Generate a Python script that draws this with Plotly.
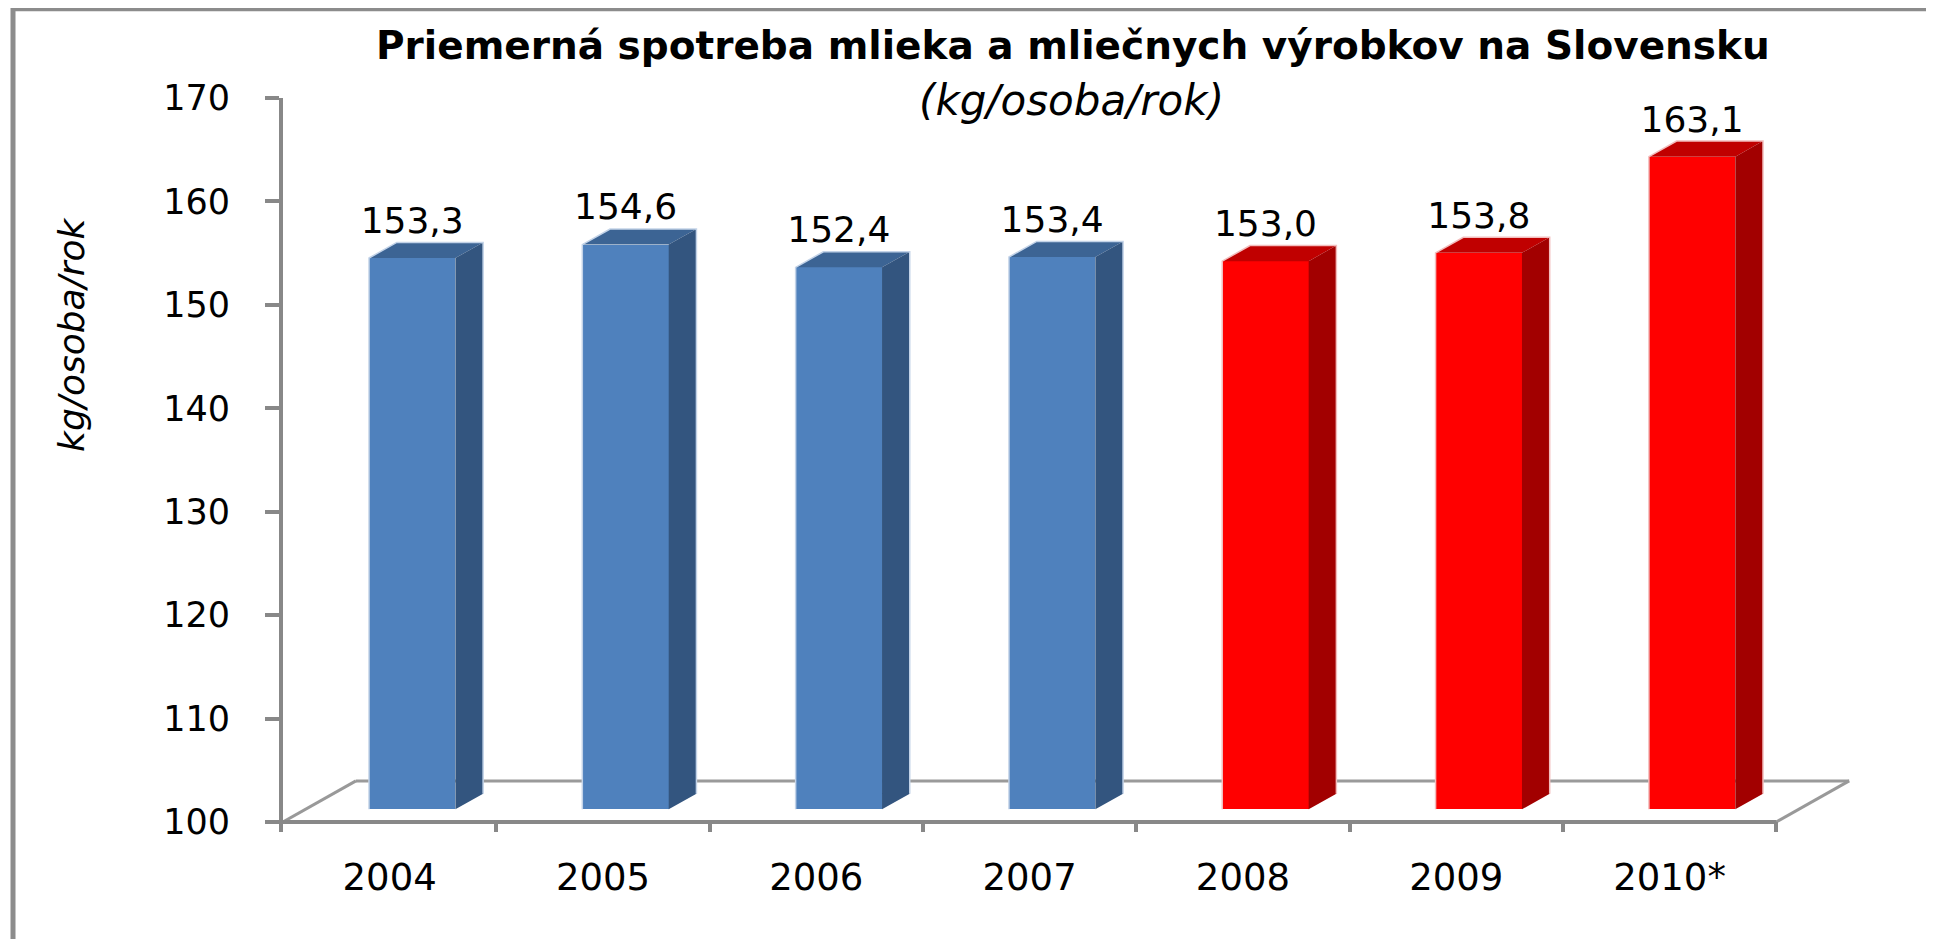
import plotly.graph_objects as go

# ---- data ----
years = ["2004", "2005", "2006", "2007", "2008", "2009", "2010*"]
values = [153.3, 154.6, 152.4, 153.4, 153.0, 153.8, 163.1]
series = ["blue", "blue", "blue", "blue", "red", "red", "red"]
y_ticks = [100, 110, 120, 130, 140, 150, 160, 170]
title_text = "Priemerná spotreba mlieka a mliečnych výrobkov na Slovensku"
subtitle_text = "(kg/osoba/rok)"
y_title = "kg/osoba/rok"

# ---- style / geometry ----
FRONT = {"blue": "#4F81BD", "red": "#FF0000"}
TOP = {"blue": "#3C6494", "red": "#C00000"}
SIDE = {"blue": "#33557F", "red": "#A20000"}
EDGE = {"blue": "#C3D3E8", "red": "#F2BDBD"}
GRAY = "#888888"
FONT = "DejaVu Sans"

Y0 = 100.0
DX, DY = 0.342, 3.97              # floor depth (x units, y units)
FX, FY = 0.309 * DX, 0.309 * DY   # bar front offset
BX, BY = 0.38 * DX, 0.38 * DY     # bar depth
W = 0.405

pos = list(range(len(years)))
n = len(years)
X_RANGE = [-0.5, n - 0.5 + 0.36]
Y_RANGE = [99.03, 170]

OFF = 8  # page body margin
W_PX, H_PX = 1934, 939
ML, MT = 283 - OFF, 98.3 - OFF
PW, PH = 1570, 733.4
MR = W_PX - ML - PW
MB = H_PX - MT - PH
BOTTOM = MT + PH


def px_x(p):
    return (p - OFF - ML) / PW


def px_y(p):
    return (BOTTOM - (p - OFF)) / PH


fig = go.Figure()

# front faces
fig.add_trace(go.Bar(
    x=[p + FX for p in pos],
    y=[v - Y0 for v in values],
    base=Y0 + FY,
    width=W,
    marker=dict(color=[FRONT[s] for s in series], line=dict(width=0)),
    hoverinfo="skip", showlegend=False,
))

# top and side faces + light silhouette edge
for grp in ["blue", "red"]:
    tx, ty, sx, sy, ex, ey = [], [], [], [], [], []
    for p, v, s in zip(pos, values, series):
        if s != grp:
            continue
        x0 = p + FX - W / 2
        x1 = p + FX + W / 2
        vt = v + FY
        tx += [x0, x1, x1 + BX, x0 + BX, x0, None]
        ty += [vt, vt, vt + BY, vt + BY, vt, None]
        sx += [x1, x1, x1 + BX, x1 + BX, x1, None]
        sy += [Y0 + FY, vt, vt + BY, Y0 + FY + BY, Y0 + FY, None]
        ex += [x0, x0, x0 + BX, x1 + BX, x1 + BX, None]
        ey += [Y0 + FY, vt, vt + BY, vt + BY, Y0 + FY + BY, None]
    fig.add_trace(go.Scatter(x=tx, y=ty, mode="lines", fill="toself",
                             fillcolor=TOP[grp], line=dict(width=0, color=TOP[grp]),
                             hoverinfo="skip", showlegend=False))
    fig.add_trace(go.Scatter(x=sx, y=sy, mode="lines", fill="toself",
                             fillcolor=SIDE[grp], line=dict(width=0, color=SIDE[grp]),
                             hoverinfo="skip", showlegend=False))
    fig.add_trace(go.Scatter(x=ex, y=ey, mode="lines",
                             line=dict(width=1.5, color=EDGE[grp]),
                             hoverinfo="skip", showlegend=False))

# value labels
fig.add_trace(go.Scatter(
    x=[p + FX for p in pos],
    y=[v + FY + 3.3 for v in values],
    mode="text",
    text=[f"{v:.1f}".replace(".", ",") for v in values],
    textposition="middle center",
    textfont=dict(family=FONT, size=36, color="black"),
    cliponaxis=False, hoverinfo="skip", showlegend=False,
))

# helper trace for boundary ticks axis
fig.add_trace(go.Scatter(x=pos, y=values, xaxis="x2", mode="markers",
                         marker=dict(opacity=0), hoverinfo="skip", showlegend=False))

shapes = [
    dict(type="line", xref="x", yref="y", x0=-0.5 + DX, y0=Y0 + DY, x1=n - 0.5 + DX, y1=Y0 + DY,
         line=dict(color="#9A9A9A", width=3), layer="below"),
    dict(type="line", xref="x", yref="y", x0=-0.5, y0=Y0, x1=-0.5 + DX, y1=Y0 + DY,
         line=dict(color="#999999", width=3), layer="below"),
    dict(type="line", xref="x", yref="y", x0=n - 0.5, y0=Y0, x1=n - 0.5 + DX, y1=Y0 + DY,
         line=dict(color="#999999", width=3), layer="below"),
    dict(type="line", xref="x", yref="y", x0=-0.5, y0=Y0, x1=n - 0.5, y1=Y0,
         line=dict(color=GRAY, width=4), layer="above"),
    dict(type="rect", xref="paper", yref="paper",
         x0=px_x(13), x1=px_x(1929), y0=px_y(980), y1=px_y(9),
         line=dict(color="#8C8C8C", width=5), fillcolor="rgba(0,0,0,0)"),
]

annotations = [
    dict(text=title_text, xref="paper", yref="paper", x=px_x(1073), y=px_y(46),
         xanchor="center", yanchor="middle", showarrow=False,
         font=dict(family=FONT, size=39, color="black", weight="bold")),
    dict(text=subtitle_text, xref="paper", yref="paper", x=px_x(1071), y=px_y(101),
         xanchor="center", yanchor="middle", showarrow=False,
         font=dict(family=FONT, size=42, color="black", style="italic")),
    dict(text=y_title, xref="paper", yref="paper", x=px_x(72), y=px_y(334),
         xanchor="center", yanchor="middle", showarrow=False, textangle=-90,
         font=dict(family=FONT, size=36, color="black", style="italic")),
]

fig.update_layout(
    width=W_PX, height=H_PX, autosize=False,
    margin=dict(l=ML, r=MR, t=MT, b=MB, pad=0),
    plot_bgcolor="white", paper_bgcolor="white",
    bargap=0, showlegend=False,
    shapes=shapes, annotations=annotations,
    xaxis=dict(range=X_RANGE, tickmode="array", tickvals=pos, ticktext=years,
               ticks="", showline=False, showgrid=False, zeroline=False,
               tickfont=dict(family=FONT, size=37, color="black"),
               ticklabelstandoff=20, automargin=False, fixedrange=True),
    xaxis2=dict(range=X_RANGE, overlaying="x", anchor="y", side="bottom",
                tickmode="array", tickvals=[i - 0.5 for i in range(n + 1)],
                ticks="inside", ticklen=10, tickwidth=4, tickcolor=GRAY,
                showticklabels=False, showline=False, showgrid=False, zeroline=False,
                automargin=False, fixedrange=True),
    yaxis=dict(range=Y_RANGE, tickmode="array", tickvals=y_ticks,
               ticks="outside", ticklen=14, tickwidth=4, tickcolor=GRAY,
               showline=True, linewidth=4, linecolor=GRAY,
               showgrid=False, zeroline=False,
               tickfont=dict(family=FONT, size=35, color="black"),
               ticklabelstandoff=28, automargin=False, fixedrange=True),
)

fig.write_html("out.html")
